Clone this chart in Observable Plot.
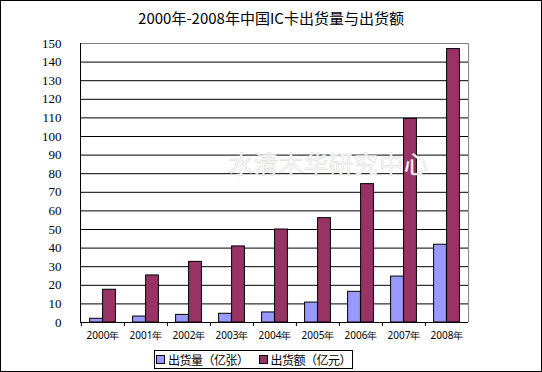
<!DOCTYPE html>
<html>
<head>
<meta charset="utf-8">
<script src="https://cdn.jsdelivr.net/npm/d3@7"></script>
<script src="https://cdn.jsdelivr.net/npm/@observablehq/plot@0.6"></script>
<style>
  body { margin: 0; background: #fff; }
  #wrap { position: relative; width: 540px; height: 370px; border: 1px solid #000; background: #fff; overflow: hidden; }
  #title { position: absolute; top: 6px; left: 0; width: 540px; text-align: center; font: 15px "Noto Sans CJK SC", sans-serif; color: #000; }
  #chart { position: absolute; top: 30px; left: 0; }
  #wm { position: absolute; left: 228px; top: 144px; font: 24px "Noto Sans CJK SC", sans-serif; color: #fff; -webkit-text-stroke: 0.5px #d4d4d4; letter-spacing: 1px; pointer-events: none; }
  #legend { position: absolute; left: 153px; top: 349px; width: 197px; height: 17px; border: 1px solid #000; display: flex; align-items: center; justify-content: center; gap: 10px; font: 12px "Noto Sans CJK SC", sans-serif; line-height: 17px; letter-spacing: -0.5px; white-space: nowrap; }
  .item { display: flex; align-items: center; gap: 3px; }
  .sw { width: 7px; height: 7px; border: 1px solid #000; }
</style>
</head>
<body>
<div id="wrap">
  <div id="title">2000年-2008年中国IC卡出货量与出货额</div>
  <div id="chart"></div>
  <div id="wm">水清木华研究中心</div>
  <div id="legend"></div>
</div>
<script>
const years = ["2000年","2001年","2002年","2003年","2004年","2005年","2006年","2007年","2008年"];
const volume = [2.0, 3.2, 4.1, 4.7, 5.4, 10.7, 16.5, 24.7, 41.8];      // 出货量(亿张)
const revenue = [17.6, 25.3, 32.6, 40.9, 50.0, 56.1, 74.4, 109.5, 147.0]; // 出货额(亿元)
const seriesNames = ["出货量（亿张）", "出货额（亿元）"];
const seriesColors = ["#9999FF", "#993366"];
const yTicks = d3.range(0, 151, 10);

const volData = years.map((y, i) => ({year: y, value: volume[i]}));
const revData = years.map((y, i) => ({year: y, value: revenue[i]}));

const plot = Plot.plot({
  width: 540,
  height: 315,
  marginTop: 12,
  marginBottom: 24,
  marginLeft: 79,
  marginRight: 73,
  style: {background: "transparent", color: "#000"},
  x: {domain: years, padding: 0, label: null},
  y: {domain: [0, 150], ticks: yTicks, label: null},
  marks: [
    Plot.ruleY(yTicks.filter(t => t > 0 && t < 150), {stroke: "#000", strokeWidth: 1}),
    Plot.ruleY([150], {stroke: "#808080"}),
    Plot.ruleX([years[years.length - 1]], {stroke: "#808080", dx: 21.6, y1: 0, y2: 150}),
    Plot.barY(volData, {x: "year", y: "value", fill: seriesColors[0], stroke: "#000", strokeWidth: 1, insetLeft: 8.6, insetRight: 21.6}),
    Plot.barY(revData, {x: "year", y: "value", fill: seriesColors[1], stroke: "#000", strokeWidth: 1, insetLeft: 21.6, insetRight: 8.6}),
    Plot.axisY({ticks: yTicks, tickSize: 0, tickPadding: 19, label: null, fontSize: 13, fontFamily: "'Liberation Serif'"}),
    Plot.axisX({tickSize: 4, dx: -21.6, text: null, label: null}),
    Plot.axisX({tickSize: 0, tickPadding: 9, fontSize: 10, label: null}),
    Plot.ruleY([0], {stroke: "#000"})
  ]
});
document.getElementById("chart").appendChild(plot);
const svg = d3.select(plot);
svg.append("line").attr("x1", 79.5).attr("x2", 79.5).attr("y1", 12).attr("y2", 291).attr("stroke", "#000");

const legend = document.getElementById("legend");
seriesNames.forEach((n, i) => {
  const it = document.createElement("div");
  it.className = "item";
  it.innerHTML = `<span class="sw" style="background:${seriesColors[i]}"></span><span>${n}</span>`;
  legend.appendChild(it);
});
</script>
</body>
</html>
